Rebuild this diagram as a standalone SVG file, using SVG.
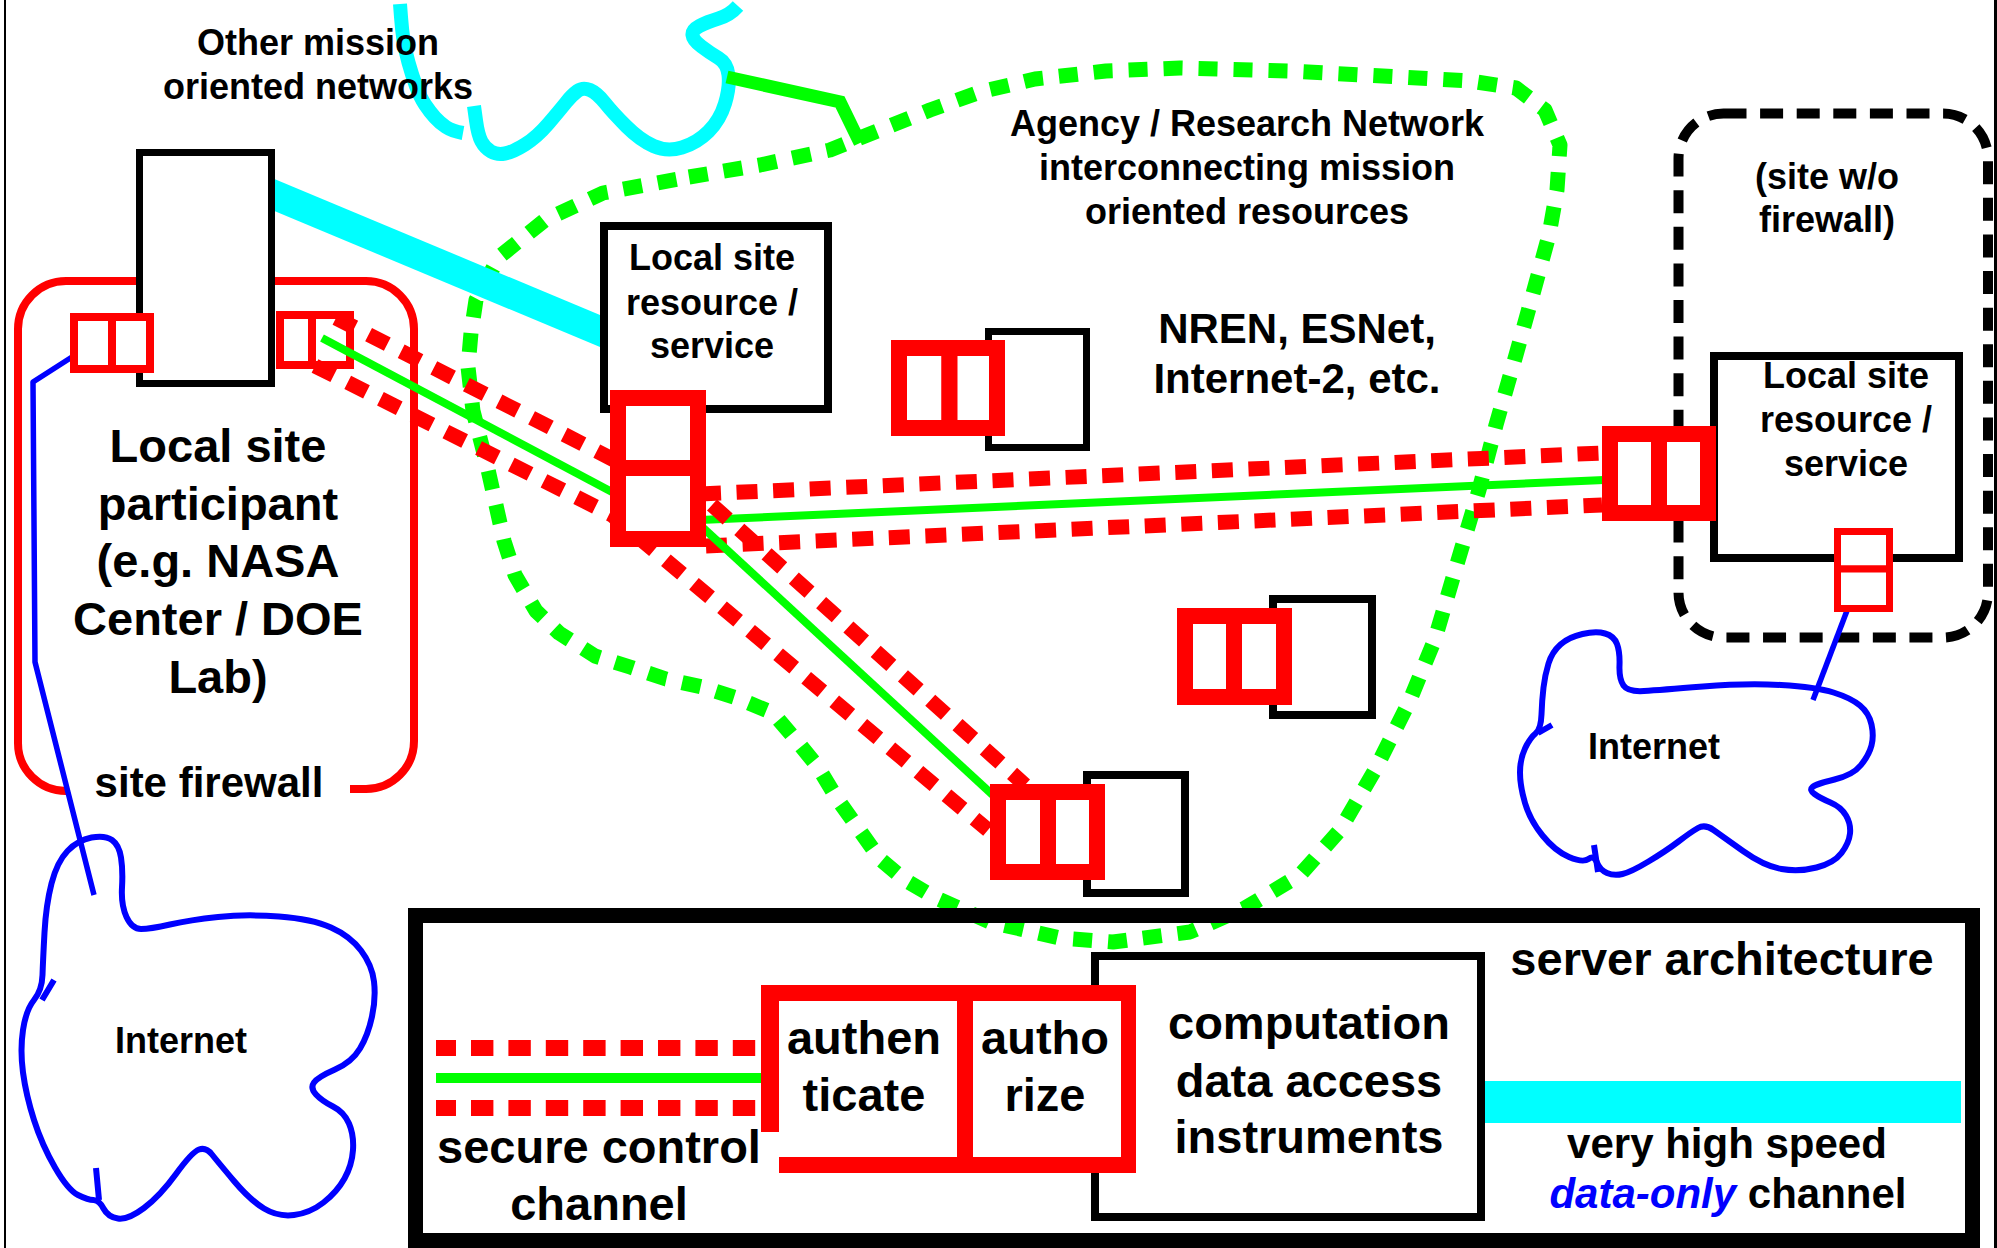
<svg xmlns="http://www.w3.org/2000/svg" width="1997" height="1248" viewBox="0 0 1997 1248">
  <style>
    text { font-family: "Liberation Sans", Arial, sans-serif; font-weight: bold; fill: #000; text-anchor: middle; }
    .t36 { font-size: 36px; }
    .t42 { font-size: 42px; }
    .t47 { font-size: 47px; }
    .box { fill: #fff; stroke: #000; stroke-width: 8; }
    .lock { fill: #fff; stroke: #f00; stroke-width: 16; }
    .lock-thin { fill: #fff; stroke: #f00; stroke-width: 8; }
    .chan-red { fill: none; stroke: #f00; stroke-width: 15; stroke-dasharray: 21 15.6; stroke-linejoin: round; }
    .chan-green { fill: none; stroke: #0f0; stroke-width: 8; }
    .net { fill: none; stroke: #0f0; stroke-width: 15; stroke-dasharray: 19 16; stroke-linejoin: round; }
    .cloud { fill: none; stroke: #00f; stroke-width: 6; stroke-linejoin: round; }
    .blue { fill: none; stroke: #00f; stroke-width: 5.5; stroke-linejoin: round; }
    .cyan { fill: none; stroke: #0ff; stroke-width: 14; stroke-linejoin: round; }
  </style>

  <rect width="1997" height="1248" fill="#fff"/>
  <!-- page frame edges -->
  <line x1="5" y1="0" x2="5" y2="1248" stroke="#000" stroke-width="2"/>
  <line x1="1995.5" y1="0" x2="1995.5" y2="1248" stroke="#000" stroke-width="3"/>

  <!-- agency / research network region -->
  <g id="agency-network">
    <path class="net" d="M689,177 L760,165 L830,150 L880,130 L930,110 L980,92 L1035,79 L1106,71 L1180,68 L1290,71 L1400,77 L1470,81 L1516,88 L1545,110 L1560,145 L1557,190 L1549,235 L1534,290 L1516,355 L1496,425 L1479,490 L1457,564 L1435,639 L1410,700 L1375,770 L1340,830 L1300,875 L1245,908 L1190,932 L1113,942 L1060,938 L990,922 L934,897 L905,880 L880,859 L858,828 L836,797 L818,767 L796,740 L773,713 L737,698 L702,687 L666,679 L630,667 L595,656 L559,633 L536,611 L515,575 L504,541 L487,465 L473,411 L468,367 L471,333 L476,300 L499,257 L545,220 L603,193 Z"/>
    <text class="t36" x="1247" y="136">Agency / Research Network</text>
    <text class="t36" x="1247" y="180">interconnecting mission</text>
    <text class="t36" x="1247" y="224">oriented resources</text>
    <text class="t42" x="1297" y="343">NREN, ESNet,</text>
    <text class="t42" x="1297" y="393">Internet-2, etc.</text>
  </g>

  <!-- other mission oriented networks -->
  <g id="other-networks">
    <path class="cyan" d="M400,4 L401,17 Q402,30 403.5,40 Q405,50 408.5,62.5 Q412,75 416,86 Q420,97 425,104.5 Q430,112 435,117.5 Q440,123 446,127 Q452,131 463,133"/>
    <path class="cyan" d="M474,106 L476,120.5 Q478,135 481.5,141.5 Q485,148 491,151.5 Q497,155 505,153.5 Q513,152 525,144.5 Q537,137 548.5,123.5 Q560,110 566,102.5 Q572,95 577.5,91 Q583,87 590,90 Q597,93 605,103 Q613,113 626.5,126.5 Q640,140 653.5,146 Q667,152 682,147.5 Q697,143 708.5,131.5 Q720,120 725,103.5 Q730,87 728.5,75 Q727,63 718.5,58 Q710,53 701.5,46.5 Q693,40 692.5,35 Q692,30 699.5,26 Q707,22 718.5,18.5 Q730,15 738,6"/>
    <text class="t36" x="318" y="55">Other mission</text>
    <text class="t36" x="318" y="99">oriented networks</text>
  </g>

  <!-- site without firewall -->
  <g id="open-site">
    <rect x="1678.5" y="113.5" width="309.5" height="524" rx="45" fill="none" stroke="#000" stroke-width="10" stroke-dasharray="23 13.6"/>
    <text class="t36" x="1827" y="189">(site w/o</text>
    <text class="t36" x="1827" y="232">firewall)</text>
  </g>

  <!-- internet clouds -->
  <g id="internet-left">
    <path class="cloud" d="M42.5,975 Q43,960 44.5,932.5 Q46,905 51.5,883.5 Q57,862 67.5,851 Q78,840 91.5,837.5 Q105,835 112,840 Q119,845 121,857.5 Q123,870 122,887.5 Q121,905 126.5,917 Q132,929 141,929 Q150,929 170,924.5 Q190,920 218,917 Q246,914 279,916.5 Q312,919 331,927.5 Q350,936 361,950.5 Q372,965 374,981.5 Q376,998 372,1016.5 Q368,1035 360,1048.5 Q352,1062 335,1069.5 Q318,1077 314,1082.5 Q310,1088 316,1094.5 Q322,1101 333,1106.5 Q344,1112 349,1123.5 Q354,1135 353,1150 Q352,1165 344.5,1178.5 Q337,1192 323.5,1202.5 Q310,1213 294,1215 Q278,1217 264,1208.5 Q250,1200 234,1181 Q218,1162 212,1154.5 Q206,1147 199,1149.5 Q192,1152 176,1174 Q160,1196 144,1208 Q128,1220 118,1218.5 Q108,1217 103.5,1208.5 Q99,1200 93.5,1200 Q88,1200 78,1195 Q68,1190 55,1167.5 Q42,1145 34,1120 Q26,1095 23,1072.5 Q20,1050 23,1030 Q26,1010 34,1000 Q42,990 42.5,975 Z"/>
    <path class="cloud" d="M42,1000 L54,980 M96,1168 L99,1200"/>
    <text class="t36" x="181" y="1053">Internet</text>
  </g>
  <g id="internet-right">
    <path class="cloud" d="M1535.5,733.5 Q1541,729 1541.5,714.5 Q1542,700 1543.5,687.5 Q1545,675 1548.5,663.5 Q1552,652 1560.5,644.5 Q1569,637 1582.5,634 Q1596,631 1605,633.5 Q1614,636 1617,644 Q1620,652 1619.5,665.5 Q1619,679 1623.5,685.5 Q1628,692 1644,691 Q1660,690 1703,686.5 Q1746,683 1781,685 Q1816,687 1833.5,692.5 Q1851,698 1860,705.5 Q1869,713 1871.5,724.5 Q1874,736 1871.5,745.5 Q1869,755 1861,765 Q1853,775 1834.5,779.5 Q1816,784 1812.5,787 Q1809,790 1814.5,794 Q1820,798 1830.5,802.5 Q1841,807 1846,815.5 Q1851,824 1850,833.5 Q1849,843 1841.5,853 Q1834,863 1816.5,867.5 Q1799,872 1781.5,869 Q1764,866 1743,851 Q1722,836 1713.5,830 Q1705,824 1698,828 Q1691,832 1678.5,841.5 Q1666,851 1648.5,861.5 Q1631,872 1622.5,874 Q1614,876 1607,873 Q1600,870 1597,862.5 Q1594,855 1588.5,859 Q1583,863 1569,857 Q1555,851 1542.5,835.5 Q1530,820 1525,803 Q1520,786 1520,772.5 Q1520,759 1525,748.5 Q1530,738 1535.5,733.5 Z"/>
    <path class="cloud" d="M1594,845 L1598,872 M1538,733 L1552,725"/>
    <text class="t36" x="1654" y="759">Internet</text>
  </g>

  <!-- local site participant behind its firewall -->
  <g id="site-participant">
    <path d="M66,791 A48,48 0 0 1 18,743 V329 A48,48 0 0 1 66,281 H366 A48,48 0 0 1 414,329 V741 A48,48 0 0 1 366,789 H350" fill="none" stroke="#f00" stroke-width="8"/>
    <text class="t47" x="218" y="462">Local site</text>
    <text class="t47" x="218" y="520">participant</text>
    <text class="t47" x="218" y="577">(e.g. NASA</text>
    <text class="t47" x="218" y="635">Center / DOE</text>
    <text class="t47" x="218" y="693">Lab)</text>
    <text class="t42" x="209" y="797">site firewall</text>
  </g>

  <g id="connectors">
    <!-- green link from the other networks into the agency network -->
    <path d="M727,77 L840,102 L860,143" fill="none" stroke="#0f0" stroke-width="13" stroke-linejoin="miter"/>
    <!-- very high speed data-only channel -->
    <polygon points="272,178 600,315 600,347 272,210" fill="#0ff"/>
    <!-- internet uplinks -->
    <path class="blue" d="M72,357 L33,382 L35,662 L94,895"/>
    <path class="blue" d="M1848,608 L1813,700"/>
  </g>

  <!-- gateway host of the participant site -->
  <g id="site-gateway">
    <rect x="139.5" y="152.5" width="132" height="231" fill="#fff" stroke="#000" stroke-width="7"/>
    <rect class="lock-thin" x="74" y="317" width="38" height="52"/>
    <rect class="lock-thin" x="112" y="317" width="38" height="52"/>
    <rect class="lock-thin" x="280" y="315" width="32" height="50"/>
    <rect class="lock-thin" x="312" y="315" width="38" height="50"/>
  </g>

  <g id="resource-center">
    <rect class="box" x="604" y="226" width="224" height="183"/>
    <text class="t36" x="712" y="270">Local site</text>
    <text class="t36" x="712" y="315">resource /</text>
    <text class="t36" x="712" y="358">service</text>
  </g>
  <g id="resource-upper"><rect x="988.5" y="331.5" width="98" height="116" fill="#fff" stroke="#000" stroke-width="7"/></g>
  <g id="resource-middle"><rect class="box" x="1273" y="599" width="99" height="116"/></g>
  <g id="resource-lower"><rect class="box" x="1087" y="775" width="98" height="118"/></g>
  <g id="resource-right">
    <rect class="box" x="1714" y="356" width="245" height="202"/>
    <text class="t36" x="1846" y="388">Local site</text>
    <text class="t36" x="1846" y="432">resource /</text>
    <text class="t36" x="1846" y="476">service</text>
  </g>

  <!-- secure control channels -->
  <g id="secure-channels">
    <path class="chan-red" d="M336,318 L618,462"/>
    <path class="chan-red" d="M315,366 L612,515 L988,830"/>
    <path class="chan-green" d="M322,338 L612,492"/>
    <path class="chan-red" d="M700,494 L1602,453"/>
    <path class="chan-red" d="M706,546 L1602,505"/>
    <path class="chan-green" d="M700,520 L1604,480"/>
    <path class="chan-red" d="M712,505 L1025,785"/>
    <path class="chan-green" d="M700,525 L996,798"/>
  </g>

  <!-- authenticate / authorize gates -->
  <g id="gate-center">
    <rect class="lock" x="618" y="398" width="80" height="70"/>
    <rect class="lock" x="618" y="468" width="80" height="71"/>
  </g>
  <g id="gate-upper">
    <rect class="lock" x="899" y="348" width="50.5" height="80"/>
    <rect class="lock" x="949.5" y="348" width="47.5" height="80"/>
  </g>
  <g id="gate-middle">
    <rect class="lock" x="1185" y="616" width="49" height="81"/>
    <rect class="lock" x="1234" y="616" width="50" height="81"/>
  </g>
  <g id="gate-lower">
    <rect class="lock" x="998" y="792" width="50" height="80"/>
    <rect class="lock" x="1048" y="792" width="49" height="80"/>
  </g>
  <g id="gate-right">
    <rect class="lock" x="1610" y="434" width="49" height="79"/>
    <rect class="lock" x="1659" y="434" width="49" height="79"/>
  </g>
  <g id="gate-open-site">
    <rect x="1837.5" y="531.5" width="52" height="37.5" fill="#fff" stroke="#f00" stroke-width="7"/>
    <rect x="1837.5" y="569" width="52" height="39.5" fill="#fff" stroke="#f00" stroke-width="7"/>
  </g>

  <!-- server architecture key -->
  <g id="legend">
    <path d="M436,1048 H757 M436,1108 H757" fill="none" stroke="#f00" stroke-width="16" stroke-dasharray="22.4 15" stroke-dashoffset="2.4"/>
    <path d="M436,1078 H761" stroke="#0f0" stroke-width="10"/>
    <rect class="box" x="1095" y="956" width="386" height="261"/>
    <g fill="#f00">
      <rect x="761" y="985" width="375" height="188" fill="#fff"/>
      <rect x="761" y="985" width="375" height="16"/>
      <rect x="761" y="985" width="18" height="147"/>
      <rect x="779" y="1157" width="357" height="16"/>
      <rect x="1121" y="985" width="15" height="188"/>
      <rect x="957" y="985" width="16" height="188"/>
    </g>
    <rect x="1485" y="1081" width="476" height="42" fill="#0ff"/>
    <text class="t47" x="864" y="1054">authen</text>
    <text class="t47" x="864" y="1111">ticate</text>
    <text class="t47" x="1045" y="1054">autho</text>
    <text class="t47" x="1045" y="1111">rize</text>
    <text class="t47" x="1309" y="1039">computation</text>
    <text class="t47" x="1309" y="1097">data access</text>
    <text class="t47" x="1309" y="1153">instruments</text>
    <text class="t47" x="1722" y="975">server architecture</text>
    <text class="t47" x="599" y="1163">secure control</text>
    <text class="t47" x="599" y="1220">channel</text>
    <text class="t42" x="1727" y="1158">very high speed</text>
    <text class="t42" x="1728" y="1208"><tspan fill="#00f" font-style="italic">data-only</tspan> channel</text>
    <rect x="415.5" y="915.5" width="1557" height="325" fill="none" stroke="#000" stroke-width="15"/>
  </g>
</svg>
